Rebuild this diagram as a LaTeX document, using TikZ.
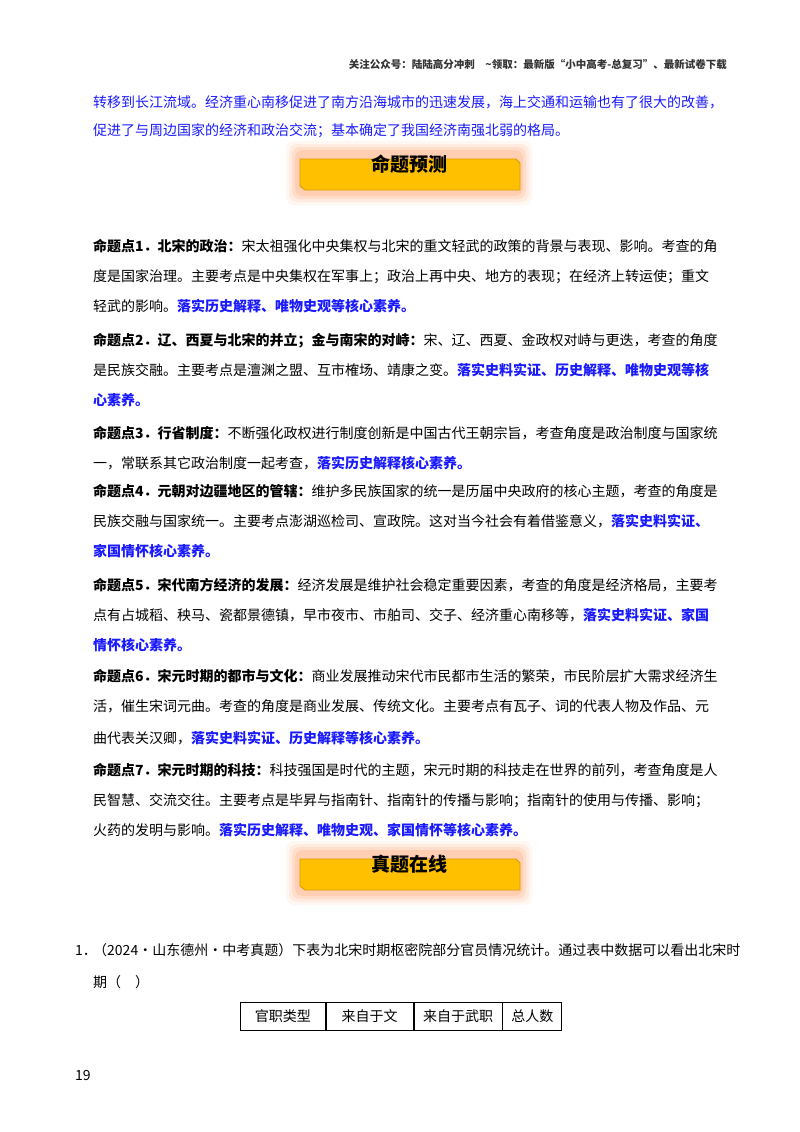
\documentclass[tikz,border=0pt]{standalone}
\usepackage{fontspec}
\setmainfont{Noto Sans CJK SC}
\XeTeXlinebreaklocale "zh"
\XeTeXlinebreakskip=0pt plus 2pt
\definecolor{txt_blue}{HTML}{1A1AFF}
\definecolor{banner_fill}{HTML}{FFC000}
\definecolor{banner_edge}{HTML}{D89A00}
\definecolor{banner_glow}{HTML}{FF9A60}
\newcommand{\fl}[1]{\makebox[634pt][s]{#1}}
\newcommand{\kp}[1]{\textbf{#1}}
\newcommand{\hl}[1]{\textcolor{txt_blue}{\textbf{#1}}}
\begin{document}
\begin{tikzpicture}[
    x=1pt, y=-1pt,
    line/.style={anchor=base west, inner sep=0pt, font=\fontsize{14}{14}\selectfont},
    header/.style={anchor=base east, inner sep=0pt, font=\fontsize{10.5}{10.5}\selectfont\bfseries, text=black!80},
    bannertext/.style={inner sep=0pt, font=\fontsize{19}{19}\selectfont\bfseries},
    cell/.style={draw, line width=0.8pt, minimum height=28pt, inner sep=0pt, font=\fontsize{14}{14}\selectfont},
]
\useasboundingbox (0,0) rectangle (800,1132);
\fill[white] (0,0) rectangle (800,1132);

% header
\node[header] (head) at (727,69) {关注公众号：陆陆高分冲刺\quad \~{}领取：最新版“小中高考-总复习”、最新试卷下载};

% intro
\node[line, text=txt_blue] (intro1) at (93,107) {\fl{转移到长江流域。经济重心南移促进了南方沿海城市的迅速发展，海上交通和运输也有了很大的改善，}};
\node[line, text=txt_blue] (intro2) at (93,135) {促进了与周边国家的经济和政治交流；基本确定了我国经济南强北弱的格局。};

% banners
\foreach \yb/\name/\label in {153/bannerA/命题预测, 853/bannerB/真题在线} {
  \foreach \g/\o in {12/0.08, 9/0.12, 6/0.16, 3/0.22}
    \fill[banner_glow, opacity=\o, rounded corners=8pt] (298-\g,\yb-\g) rectangle (520+\g,\yb+40+\g);
  \draw[banner_edge, fill=banner_fill, line width=0.8pt]
    (300,\yb+6) -- (516,\yb+6) -- (520,\yb+10) -- (520,\yb+37) -- (305,\yb+37) -- (300,\yb+33) -- cycle;
  \node[bannertext] (\name) at (409,\yb+11) {\label};
}

% points
\node[line] (p1a) at (93,251) {\fl{\kp{命题点1．北宋的政治：}宋太祖强化中央集权与北宋的重文轻武的政策的背景与表现、影响。考查的角}};
\node[line] (p1b) at (93,281) {\fl{度是国家治理。主要考点是中央集权在军事上；政治上再中央、地方的表现；在经济上转运使；重文}};
\node[line] (p1c) at (93,311) {轻武的影响。\hl{落实历史解释、唯物史观等核心素养。}};

\node[line] (p2a) at (93,345) {\fl{\kp{命题点2．辽、西夏与北宋的并立；金与南宋的对峙：}宋、辽、西夏、金政权对峙与更迭，考查的角度}};
\node[line] (p2b) at (93,375) {\fl{是民族交融。主要考点是澶渊之盟、互市榷场、靖康之变。\hl{落实史料实证、历史解释、唯物史观等核}}};
\node[line] (p2c) at (93,405) {\hl{心素养。}};

\node[line] (p3a) at (93,438) {\fl{\kp{命题点3．行省制度：}不断强化政权进行制度创新是中国古代王朝宗旨，考查角度是政治制度与国家统}};
\node[line] (p3b) at (93,468) {一，常联系其它政治制度一起考查，\hl{落实历史解释核心素养。}};

\node[line] (p4a) at (93,496) {\fl{\kp{命题点4．元朝对边疆地区的管辖：}维护多民族国家的统一是历届中央政府的核心主题，考查的角度是}};
\node[line] (p4b) at (93,526) {\fl{民族交融与国家统一。主要考点澎湖巡检司、宣政院。这对当今社会有着借鉴意义，\hl{落实史料实证、}}};
\node[line] (p4c) at (93,556) {\hl{家国情怀核心素养。}};

\node[line] (p5a) at (93,590) {\fl{\kp{命题点5．宋代南方经济的发展：}经济发展是维护社会稳定重要因素，考查的角度是经济格局，主要考}};
\node[line] (p5b) at (93,620) {\fl{点有占城稻、秧马、瓷都景德镇，早市夜市、市舶司、交子、经济重心南移等，\hl{落实史料实证、家国}}};
\node[line] (p5c) at (93,650) {\hl{情怀核心素养。}};

\node[line] (p6a) at (93,681) {\fl{\kp{命题点6．宋元时期的都市与文化：}商业发展推动宋代市民都市生活的繁荣，市民阶层扩大需求经济生}};
\node[line] (p6b) at (93,711) {\fl{活，催生宋词元曲。考查的角度是商业发展、传统文化。主要考点有瓦子、词的代表人物及作品、元}};
\node[line] (p6c) at (93,743) {曲代表关汉卿，\hl{落实史料实证、历史解释等核心素养。}};

\node[line] (p7a) at (93,775) {\fl{\kp{命题点7．宋元时期的科技：}科技强国是时代的主题，宋元时期的科技走在世界的前列，考查角度是人}};
\node[line] (p7b) at (93,805) {\fl{民智慧、交流交往。主要考点是毕昇与指南针、指南针的传播与影响；指南针的使用与传播、影响；}};
\node[line] (p7c) at (93,835) {火药的发明与影响。\hl{落实历史解释、唯物史观、家国情怀等核心素养。}};

% question
\node[line] (qnum) at (75,955) {1．};
\node[line] (q1a) at (93,955) {\fl{（2024·山东德州·中考真题）下表为北宋时期枢密院部分官员情况统计。通过表中数据可以看出北宋时}};
\node[line] (q1b) at (93,987) {期（\quad ）};

% table
\node[cell, minimum width=85pt, anchor=north west] (c1) at (240,1002) {官职类型};
\node[cell, minimum width=87pt, anchor=north west] (c2) at (c1.north east) {来自于文};
\node[cell, minimum width=88pt, anchor=north west] (c3) at (c2.north east) {来自于武职};
\node[cell, minimum width=59pt, anchor=north west] (c4) at (c3.north east) {总人数};

% page number
\node[line] (page) at (75,1080) {19};
\end{tikzpicture}
\end{document}
